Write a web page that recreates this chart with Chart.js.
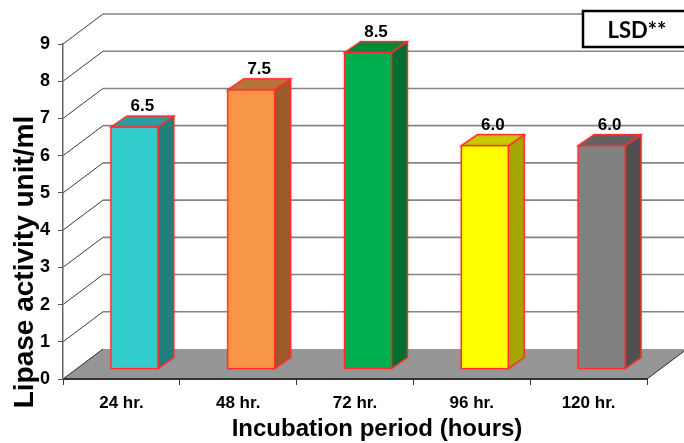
<!DOCTYPE html>
<html>
<head>
<meta charset="utf-8">
<title>Lipase activity</title>
<script src="https://cdn.jsdelivr.net/npm/chart.js@4.4.0/dist/chart.umd.min.js"></script>
<style>
  html, body { margin: 0; padding: 0; background: #fff; }
  canvas { display: block; }
</style>
</head>
<body>
<canvas id="myChart" width="684" height="443"></canvas>
<script>
var periods = ["24 hr.", "48 hr.", "72 hr.", "96 hr.", "120 hr."];
var activity = [6.5, 7.5, 8.5, 6.0, 6.0];
var yMin = 0, yMax = 9, yStep = 1;

// face colours for each box: front, top, side
var frontColors = ["#33CCCC", "#F79646", "#00B050", "#FFFF00", "#808080"];
var topColors   = ["#2A9E9E", "#B8733A", "#008A3C", "#C8C800", "#626262"];
var sideColors  = ["#1F8080", "#9C5A2A", "#006E30", "#A6A600", "#505050"];

var FONT = "'Liberation Sans', Arial, sans-serif";

// fake 3D depth
var wallDx = 40, wallDy = -30;   // floor / back wall
var barOffX = 13, barOffY = -10; // where the bar front sits inside the floor
var barDx = 16, barDy = -11;     // bar thickness

function poly(ctx, pts, fill, stroke) {
    ctx.beginPath();
    ctx.moveTo(pts[0][0], pts[0][1]);
    for (var i = 1; i < pts.length; i++) ctx.lineTo(pts[i][0], pts[i][1]);
    ctx.closePath();
    ctx.fillStyle = fill;
    ctx.fill();
    if (stroke) {
        ctx.strokeStyle = stroke;
        ctx.lineWidth = 1.2;
        ctx.stroke();
    }
}

var box3d = {
    id: 'box3d',
    beforeDatasetsDraw: function(chart) {
        var ctx = chart.ctx, a = chart.chartArea, y = chart.scales.y;
        ctx.save();
        // back wall grid
        for (var v = yMin + yStep; v <= yMax; v += yStep) {
            var yf = y.getPixelForValue(v);
            ctx.beginPath();
            ctx.moveTo(a.left, yf);
            ctx.lineTo(a.left + wallDx, yf + wallDy);
            ctx.strokeStyle = '#3a3a3a';
            ctx.lineWidth = 1;
            ctx.stroke();
            ctx.beginPath();
            ctx.moveTo(a.left + wallDx, yf + wallDy);
            ctx.lineTo(chart.width + 5, yf + wallDy);
            ctx.strokeStyle = '#858585';
            ctx.lineWidth = 1.6;
            ctx.stroke();
        }
        // floor
        var y0 = y.getPixelForValue(yMin);
        poly(ctx, [[a.left, y0], [a.right, y0], [a.right + wallDx, y0 + wallDy], [a.left + wallDx, y0 + wallDy]], '#969696');
        ctx.beginPath();
        ctx.moveTo(a.left, y0); ctx.lineTo(a.left + wallDx, y0 + wallDy);
        ctx.moveTo(a.right, y0); ctx.lineTo(a.right + wallDx, y0 + wallDy);
        ctx.strokeStyle = '#2a2a2a';
        ctx.lineWidth = 1;
        ctx.stroke();
        ctx.restore();
    },
    afterDatasetsDraw: function(chart) {
        var ctx = chart.ctx;
        var meta = chart.getDatasetMeta(0);
        ctx.save();
        meta.data.forEach(function(bar, i) {
            var p = bar.getProps(['x', 'y', 'base', 'width'], true);
            var x0 = p.x - p.width / 2 + barOffX, x1 = p.x + p.width / 2 + barOffX;
            var yt = p.y + barOffY, yb = p.base + barOffY;
            ctx.shadowColor = 'rgba(255,60,60,0.45)';
            ctx.shadowBlur = 2;
            poly(ctx, [[x1, yt], [x1 + barDx, yt + barDy], [x1 + barDx, yb + barDy], [x1, yb]], sideColors[i], '#FF2a2a');
            poly(ctx, [[x0, yt], [x1, yt], [x1 + barDx, yt + barDy], [x0 + barDx, yt + barDy]], topColors[i], '#FF2a2a');
            poly(ctx, [[x0, yt], [x1, yt], [x1, yb], [x0, yb]], frontColors[i], '#FF2a2a');
            ctx.shadowBlur = 0;
            ctx.shadowColor = 'transparent';

            ctx.fillStyle = '#000';
            ctx.font = 'bold 17px ' + FONT;
            ctx.textAlign = 'center';
            ctx.textBaseline = 'alphabetic';
            ctx.fillText(activity[i].toFixed(1), (x0 + x1) / 2 + barDx / 2, yt + barDy - 5);
        });
        ctx.restore();
    },
    afterDraw: function(chart) {
        var ctx = chart.ctx;
        ctx.save();
        ctx.fillStyle = '#000';
        // axis titles
        ctx.font = 'bold 28px ' + FONT;
        ctx.textAlign = 'center';
        ctx.textBaseline = 'alphabetic';
        ctx.translate(33, 262);
        ctx.rotate(-Math.PI / 2);
        ctx.fillText('Lipase activity unit/ml', 0, 0);
        ctx.setTransform(1, 0, 0, 1, 0, 0);
        ctx.font = 'bold 24px ' + FONT;
        ctx.fillText('Incubation period (hours)', 377, 436);

        // LSD box
        ctx.fillStyle = '#fff';
        ctx.fillRect(583, 11, 110, 36);
        ctx.strokeStyle = '#000';
        ctx.lineWidth = 2.5;
        ctx.strokeRect(583, 11, 110, 36);
        ctx.fillStyle = '#000';
        ctx.font = "bold 22px Lato, 'Open Sans', sans-serif";
        ctx.textBaseline = 'middle';
        ctx.fillText('LSD**', 637, 31);
        ctx.restore();
    }
};

var ctx = document.getElementById('myChart').getContext('2d');
var chart = new Chart(ctx, {
    type: 'bar',
    data: {
        labels: periods,
        datasets: [{
            data: activity,
            backgroundColor: 'rgba(0,0,0,0)',
            borderWidth: 0,
            barPercentage: 0.402,
            categoryPercentage: 1
        }]
    },
    options: {
        responsive: false,
        animation: false,
        devicePixelRatio: 1,
        layout: { padding: { top: 44, right: 37, left: 0, bottom: 0 } },
        plugins: { legend: { display: false }, tooltip: { enabled: false } },
        scales: {
            x: {
                afterFit: function(scale) { scale.height = 64; },
                grid: { offset: true, drawOnChartArea: false, tickLength: 6, color: '#333', lineWidth: 1 },
                border: { display: true, color: '#333', width: 2, z: 1 },
                ticks: { color: '#000', font: { family: FONT, size: 17, weight: 'bold' }, padding: 8, maxRotation: 0 }
            },
            y: {
                min: yMin,
                max: yMax,
                afterFit: function(scale) { scale.width = 63; },
                grid: { drawOnChartArea: false, tickLength: 5, color: '#555', lineWidth: 1 },
                border: { display: true, color: '#666', width: 1.5, z: 1 },
                ticks: { stepSize: yStep, color: '#000', font: { family: FONT, size: 18, weight: 'bold' }, padding: 8 }
            }
        }
    },
    plugins: [box3d]
});
</script>
</body>
</html>
